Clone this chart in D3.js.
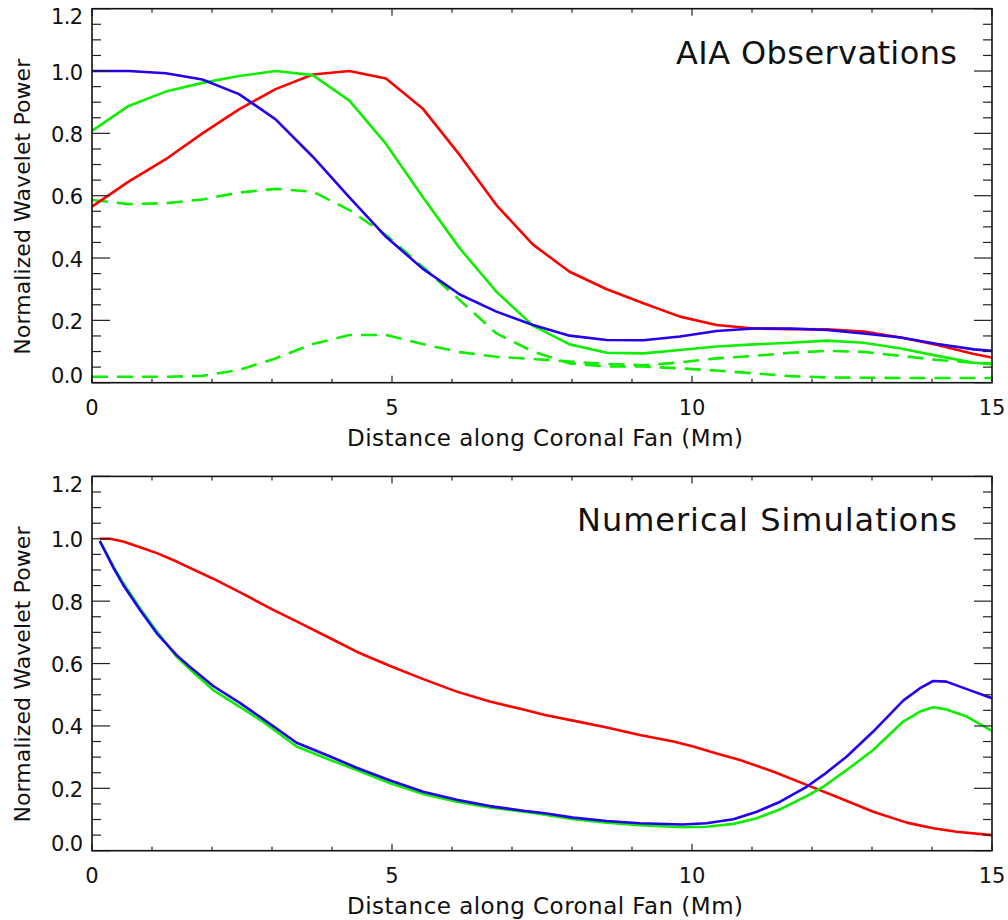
<!DOCTYPE html>
<html>
<head>
<meta charset="utf-8">
<script src="https://cdn.jsdelivr.net/npm/d3@7"></script>
<style>
  html, body { margin: 0; padding: 0; background: #fff; }
  svg { display: block; }
  text { font-family: "DejaVu Sans", "Liberation Sans", sans-serif; fill: #111; }
</style>
</head>
<body>
<svg id="chart" width="1008" height="920"></svg>
<script>
// ---------- DATA ----------
// Top panel: AIA Observations (distance in Mm)
const obsX = [0, 0.61, 1.23, 1.84, 2.45, 3.06, 3.68, 4.29, 4.90, 5.51, 6.13, 6.74, 7.35,
              7.96, 8.58, 9.19, 9.80, 10.41, 11.03, 11.64, 12.25, 12.86, 13.48, 14.09, 14.70, 15.0];
const obsRed = [0.565, 0.645, 0.717, 0.800, 0.877, 0.942, 0.989, 1.000, 0.976, 0.880, 0.730, 0.570, 0.443,
                0.356, 0.300, 0.255, 0.212, 0.185, 0.174, 0.172, 0.171, 0.164, 0.145, 0.121, 0.092, 0.081];
const obsBlue = [1.000, 1.000, 0.993, 0.973, 0.926, 0.845, 0.725, 0.595, 0.468, 0.366, 0.283, 0.228, 0.185,
                 0.151, 0.137, 0.136, 0.148, 0.166, 0.174, 0.174, 0.169, 0.158, 0.145, 0.124, 0.107, 0.102];
const obsGreen = [0.808, 0.888, 0.934, 0.962, 0.984, 1.000, 0.987, 0.905, 0.766, 0.597, 0.431, 0.292, 0.183,
                  0.123, 0.096, 0.094, 0.105, 0.116, 0.123, 0.128, 0.135, 0.128, 0.110, 0.086, 0.064, 0.059];
const obsGreenDashUpper = [0.586, 0.573, 0.576, 0.588, 0.610, 0.622, 0.613, 0.554, 0.474, 0.372, 0.265, 0.158, 0.100,
                           0.062, 0.052, 0.052, 0.046, 0.039, 0.030, 0.021, 0.017, 0.016, 0.015, 0.015, 0.015, 0.015];
const obsGreenDashLower = [0.019, 0.019, 0.019, 0.022, 0.041, 0.078, 0.124, 0.153, 0.153, 0.124, 0.098, 0.083, 0.076,
                           0.068, 0.060, 0.056, 0.065, 0.078, 0.086, 0.096, 0.102, 0.099, 0.086, 0.073, 0.064, 0.062];

// Bottom panel: Numerical Simulations
const simRedX = [0.13, 0.30, 0.52, 0.80, 1.08, 1.41, 2.02, 2.47, 3.02, 3.41, 3.97, 4.41, 4.97, 5.52, 6.08, 6.63,
                 7.19, 7.55, 8.02, 8.58, 9.13, 9.69, 10.02, 10.41, 10.80, 11.36, 11.91, 12.47, 13.02, 13.58, 14.02, 14.41, 15.0];
const simRed = [1.000, 1.000, 0.991, 0.973, 0.954, 0.927, 0.872, 0.828, 0.772, 0.735, 0.681, 0.638, 0.592, 0.550, 0.510, 0.478,
                0.453, 0.435, 0.417, 0.395, 0.371, 0.350, 0.334, 0.312, 0.291, 0.253, 0.211, 0.168, 0.125, 0.090, 0.072, 0.061, 0.050];
const simX = [0.13, 0.36, 0.52, 0.80, 1.08, 1.41, 1.63, 2.02, 2.47, 2.86, 3.41, 3.97, 4.41, 4.97, 5.52, 6.08, 6.63, 7.19,
              7.55, 8.02, 8.58, 9.13, 9.85, 10.24, 10.69, 11.08, 11.47, 11.91, 12.19, 12.58, 13.02, 13.52, 13.80, 14.02,
              14.24, 14.58, 15.0];
const simBlue = [0.993, 0.906, 0.852, 0.772, 0.697, 0.627, 0.590, 0.528, 0.473, 0.421, 0.346, 0.302, 0.266, 0.225, 0.189,
                 0.163, 0.143, 0.128, 0.120, 0.106, 0.095, 0.088, 0.084, 0.088, 0.101, 0.125, 0.157, 0.205, 0.243, 0.302,
                 0.382, 0.481, 0.521, 0.544, 0.542, 0.518, 0.489];
const simGreen = [0.993, 0.911, 0.858, 0.777, 0.703, 0.622, 0.582, 0.515, 0.460, 0.412, 0.334, 0.291, 0.259, 0.216, 0.182,
                  0.157, 0.139, 0.125, 0.115, 0.101, 0.090, 0.082, 0.075, 0.077, 0.086, 0.104, 0.133, 0.175, 0.205, 0.259,
                  0.323, 0.414, 0.446, 0.460, 0.453, 0.430, 0.384];

// Axis ticks / labels
const xMajorTicks = [0, 5, 10, 15];
const xTickLabels = ["0", "5", "10", "15"];
const xMinorTicks = [1, 2, 3, 4, 6, 7, 8, 9, 11, 12, 13, 14];
const yMajorTicks = [0, 0.2, 0.4, 0.6, 0.8, 1.0, 1.2];
const yTickLabels = ["0.0", "0.2", "0.4", "0.6", "0.8", "1.0", "1.2"];
const yMinorTicks = [0.05, 0.1, 0.15, 0.25, 0.3, 0.35, 0.45, 0.5, 0.55, 0.65, 0.7, 0.75, 0.85, 0.9, 0.95, 1.05, 1.1, 1.15];
const xTitle = "Distance along Coronal Fan (Mm)";
const yTitle = "Normalized Wavelet Power";
const panelTitles = ["AIA Observations", "Numerical Simulations"];

// ---------- DRAW ----------
const svg = d3.select("#chart");
const COLORS = { red: "#ff0000", green: "#10ee00", blue: "#2200f0" };

const panels = [
  { top: 8.7, bottom: 382.7, title: panelTitles[0], titleLen: 281,
    series: [
      { x: obsX, y: obsGreenDashUpper, c: COLORS.green, dash: "16,9" },
      { x: obsX, y: obsGreenDashLower, c: COLORS.green, dash: "16,9" },
      { x: obsX, y: obsRed, c: COLORS.red },
      { x: obsX, y: obsGreen, c: COLORS.green },
      { x: obsX, y: obsBlue, c: COLORS.blue }
    ]},
  { top: 476.4, bottom: 850.7, title: panelTitles[1], titleLen: 380,
    series: [
      { x: simRedX, y: simRed, c: COLORS.red },
      { x: simX, y: simGreen, c: COLORS.green },
      { x: simX, y: simBlue, c: COLORS.blue }
    ]}
];

const X0 = 92, X1 = 992;

panels.forEach((p, pi) => {
  const x = d3.scaleLinear().domain([0, 15]).range([X0, X1]);
  const y = d3.scaleLinear().domain([0, 1.2]).range([p.bottom, p.top]);
  const g = svg.append("g");

  const clipId = "clip" + pi;
  svg.append("clipPath").attr("id", clipId)
    .append("rect").attr("x", X0).attr("y", p.top).attr("width", X1 - X0).attr("height", p.bottom - p.top);

  // series
  const line = d3.line().x(d => x(d[0])).y(d => y(d[1]));
  const lg = g.append("g").attr("clip-path", `url(#${clipId})`);
  p.series.forEach(s => {
    const pts = s.x.map((xv, i) => [xv, s.y[i]]);
    lg.append("path").datum(pts)
      .attr("d", line)
      .attr("fill", "none")
      .attr("stroke", s.c)
      .attr("stroke-width", 2.6)
      .attr("stroke-linejoin", "round")
      .attr("stroke-dasharray", s.dash || null);
  });

  // ticks
  const tk = g.append("g").attr("stroke", "#222").attr("stroke-width", 1.2);
  xMajorTicks.forEach(v => {
    tk.append("line").attr("x1", x(v)).attr("x2", x(v)).attr("y1", p.bottom).attr("y2", p.bottom - 7);
    tk.append("line").attr("x1", x(v)).attr("x2", x(v)).attr("y1", p.top).attr("y2", p.top + 7);
  });
  xMinorTicks.forEach(v => {
    tk.append("line").attr("x1", x(v)).attr("x2", x(v)).attr("y1", p.bottom).attr("y2", p.bottom - 4);
    tk.append("line").attr("x1", x(v)).attr("x2", x(v)).attr("y1", p.top).attr("y2", p.top + 4);
  });
  yMajorTicks.forEach(v => {
    tk.append("line").attr("x1", X0).attr("x2", X0 + 18).attr("y1", y(v)).attr("y2", y(v));
    tk.append("line").attr("x1", X1).attr("x2", X1 - 18).attr("y1", y(v)).attr("y2", y(v));
  });
  yMinorTicks.forEach(v => {
    tk.append("line").attr("x1", X0).attr("x2", X0 + 9).attr("y1", y(v)).attr("y2", y(v));
    tk.append("line").attr("x1", X1).attr("x2", X1 - 9).attr("y1", y(v)).attr("y2", y(v));
  });

  // box
  g.append("rect").attr("x", X0).attr("y", p.top).attr("width", X1 - X0).attr("height", p.bottom - p.top)
    .attr("fill", "none").attr("stroke", "#111").attr("stroke-width", 1.6);

  // y tick labels
  yMajorTicks.forEach((v, i) => {
    let base = y(v) + 8.5;
    if (i === yMajorTicks.length - 1) base = y(v) + 15.5;
    if (i === 0) base = y(v) + 0.5;
    g.append("text").attr("x", 83).attr("y", base)
      .attr("text-anchor", "end").attr("font-size", 21)
      .attr("textLength", 32).attr("lengthAdjust", "spacing")
      .text(yTickLabels[i]);
  });

  // x tick labels
  xMajorTicks.forEach((v, i) => {
    g.append("text").attr("x", x(v)).attr("y", p.bottom + 32.5)
      .attr("text-anchor", "middle").attr("font-size", 21)
      .text(xTickLabels[i]);
  });

  // x title
  g.append("text").attr("x", 545).attr("y", p.bottom + 63.5)
    .attr("text-anchor", "middle").attr("font-size", 23)
    .attr("textLength", 396).attr("lengthAdjust", "spacing")
    .text(xTitle);

  // y title
  const yc = (p.top + p.bottom) / 2 + 11;
  g.append("text")
    .attr("transform", `translate(30,${yc}) rotate(-90)`)
    .attr("text-anchor", "middle").attr("font-size", 22)
    .attr("textLength", 296).attr("lengthAdjust", "spacing")
    .text(yTitle);

  // panel title
  g.append("text").attr("x", 957).attr("y", p.top + 55)
    .attr("text-anchor", "end").attr("font-size", 32)
    .attr("textLength", p.titleLen).attr("lengthAdjust", "spacing")
    .text(p.title);
});
</script>
</body>
</html>
